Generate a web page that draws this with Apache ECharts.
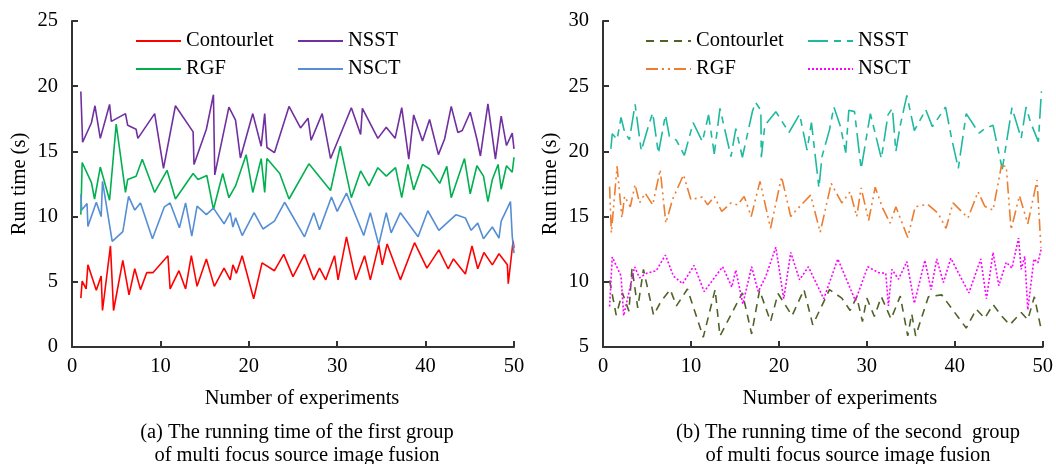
<!DOCTYPE html>
<html>
<head>
<meta charset="utf-8">
<script src="https://cdn.jsdelivr.net/npm/echarts@6/dist/echarts.min.js"></script>
<style>
  html, body { margin: 0; background: #fff; }
  #chart { width: 1056px; height: 464px; }
</style>
</head>
<body>
<div id="chart"></div>
<script>
// data read off the picture, [experiment, seconds]
// (a) first group
const aContourlet = [[1,3.75],[1.15,5.05],[1.6,4.45],[1.8,6.3],[2.75,4.35],[3.3,5.45],[3.45,2.8],[4.35,7.75],[4.7,2.8],[5.75,6.65],[6.45,4.0],[7.1,6.0],[7.75,4.4],[8.45,5.7],[9.15,5.7],[10.85,7.0],[11.1,4.45],[12.1,5.85],[12.85,4.45],[13.5,7.0],[14.15,4.65],[15.2,6.75],[16.1,4.65],[17.2,6.05],[17.9,5.15],[18.2,6.3],[18.6,5.65],[19.25,7.0],[20.55,3.7],[21.5,6.45],[22.9,5.85],[23.95,7.1],[25.0,5.4],[26.3,7.1],[27.35,5.15],[28.0,6.05],[28.7,5.15],[29.7,7.0],[30.1,5.15],[31.05,8.45],[32.1,5.15],[33.1,7.0],[33.75,5.15],[34.7,7.85],[35.1,6.3],[35.65,7.9],[37.15,5.15],[38.75,8.0],[40.15,6.05],[41.5,7.45],[42.55,6.0],[43.15,6.75],[44.5,5.6],[45.25,7.75],[45.9,6.0],[46.6,7.25],[47.55,6.3],[48.3,7.15],[49.25,6.3],[49.35,4.85],[49.9,8.15],[50,7.6]]
const aNSST = [[1,19.6],[1.2,15.7],[2.2,17.2],[2.6,18.5],[3.2,16.0],[4.25,18.6],[4.45,17.3],[6.05,17.9],[6.3,17.0],[7.25,16.7],[7.45,16.0],[9.35,17.9],[10.35,13.7],[11.7,18.5],[13.7,16.5],[13.8,14.0],[15.2,16.7],[16.0,19.35],[16.15,13.2],[17.75,18.4],[18.5,17.4],[19.05,14.5],[20.45,17.9],[21.4,15.4],[21.8,17.9],[22.05,15.3],[22.9,14.9],[24.55,18.45],[25.85,16.8],[26.7,17.55],[27.05,15.85],[28.3,17.9],[29.25,14.45],[31.6,18.35],[32.65,16.3],[32.85,18.3],[34.6,16.0],[35.55,16.85],[36.55,16.0],[37.3,18.35],[38.1,14.4],[38.65,17.8],[39.65,15.8],[40.45,17.45],[41.45,14.75],[42.15,15.95],[42.9,18.45],[43.65,16.45],[44.15,16.6],[45.05,18.0],[45.8,15.95],[46.2,14.65],[47.05,18.65],[47.9,14.4],[48.55,17.7],[49.15,15.45],[49.8,16.4],[50,15.2]]
const aRGF = [[1,10.15],[1.15,14.15],[2.2,12.6],[2.55,11.35],[3.2,13.8],[4.25,11.25],[5.0,17.1],[6.05,11.85],[6.3,12.85],[7.25,13.1],[7.95,14.4],[9.35,11.85],[10.75,13.55],[11.7,11.35],[13.7,13.3],[14.25,12.85],[15.25,13.15],[16.0,10.55],[17.05,13.3],[17.75,11.45],[18.5,12.35],[19.7,14.75],[20.45,11.85],[21.4,14.45],[21.8,11.85],[22.05,14.45],[23.5,13.3],[24.55,11.35],[26.8,14.05],[29.25,12.0],[30.35,15.4],[31.6,11.45],[32.65,13.5],[33.6,12.35],[34.6,13.75],[35.55,13.1],[36.6,13.75],[37.3,11.45],[38.0,14.0],[38.65,12.05],[39.65,14.0],[40.45,13.65],[41.6,12.55],[42.4,13.85],[42.9,11.45],[44.4,14.45],[45.05,11.75],[45.8,13.9],[46.55,13.1],[47.05,11.15],[47.55,12.85],[48.2,14.0],[48.55,12.1],[49.15,13.9],[49.8,13.4],[50,14.55]]
const aNSCT = [[1,11.7],[1.1,10.5],[1.7,11.0],[1.8,9.25],[2.75,11.1],[3.3,10.0],[3.45,12.7],[4.55,8.1],[5.75,8.85],[6.4,11.55],[7.1,10.5],[7.75,11.05],[9.1,8.3],[10.45,10.75],[11.1,11.05],[12.15,9.15],[12.85,11.05],[13.55,8.5],[14.15,10.8],[15.2,10.15],[16.0,10.65],[17.2,9.45],[17.9,10.3],[18.2,9.2],[18.5,9.9],[19.25,8.55],[20.6,10.3],[21.6,9.05],[22.9,9.65],[24.05,11.1],[26.3,8.45],[27.35,10.3],[28.0,9.0],[29.35,11.5],[30.0,10.4],[31.05,11.8],[33.0,8.55],[33.75,10.3],[34.7,7.85],[35.55,10.3],[36.1,8.75],[37.15,10.3],[39.15,8.45],[40.25,10.45],[41.5,8.95],[43.45,10.15],[44.5,9.9],[45.15,8.95],[45.9,9.5],[46.55,8.3],[47.55,9.2],[48.3,8.35],[48.55,9.65],[49.6,11.15],[49.8,8.5],[50,7.2]]

// (b) second group
const bContourlet = [[0.75,10.1],[1.5,7.45],[2.2,9.15],[2.95,7.75],[3.3,11.05],[3.95,8.0],[4.6,10.95],[5.75,7.45],[6.6,8.5],[7.65,9.4],[8.35,8.15],[9.6,9.45],[11.4,5.75],[12.75,9.4],[13.3,5.85],[14.8,7.8],[15.85,9.15],[16.9,6.0],[17.8,9.35],[19.05,6.95],[19.9,9.1],[21.5,7.4],[22.85,9.4],[23.85,6.7],[25.75,9.4],[27.15,8.75],[28.1,7.8],[28.85,8.85],[29.5,6.95],[30.0,8.75],[30.85,7.35],[31.65,8.85],[32.75,7.15],[33.8,8.9],[34.65,5.85],[35.1,7.55],[35.55,5.85],[37.0,8.85],[38.5,9.0],[41.3,6.45],[42.45,7.9],[43.4,7.2],[44.35,8.25],[45.3,7.4],[46.25,6.7],[47.55,7.65],[48.3,7.1],[49.05,8.85],[49.85,6.25]]
const bNSST = [[0.9,20.2],[1.05,21.35],[1.6,20.9],[2.05,22.6],[2.45,21.5],[3.0,20.9],[3.65,23.6],[4.35,20.05],[5.1,21.8],[5.65,22.95],[6.3,19.85],[7.1,22.8],[7.55,21.15],[8.35,20.85],[9.25,19.7],[10.25,22.2],[11.3,20.75],[12.0,22.8],[12.65,19.8],[13.3,23.3],[14.55,19.6],[15.1,21.75],[15.85,19.55],[17.0,23.1],[17.35,23.75],[17.95,23.15],[18.0,19.55],[18.4,22.0],[19.65,23.05],[21.15,21.45],[22.35,22.85],[23.2,20.1],[23.7,22.2],[24.55,17.2],[24.9,19.6],[25.75,21.65],[26.25,23.4],[27.0,21.9],[27.6,19.9],[27.95,23.15],[28.6,23.05],[29.35,18.65],[30.4,22.9],[31.65,19.45],[32.4,22.8],[32.9,23.3],[33.3,20.0],[33.8,22.0],[34.55,24.3],[35.4,21.6],[36.7,23.2],[37.45,21.9],[38.95,23.4],[39.65,20.95],[40.4,18.7],[41.3,22.9],[42.75,21.4],[43.4,21.75],[44.35,22.0],[45.4,18.65],[45.95,21.0],[46.5,23.35],[47.1,22.0],[47.55,21.0],[48.1,23.4],[48.6,22.25],[49.5,20.75],[49.85,24.6]]
const bRGF = [[0.75,17.3],[0.95,13.75],[1.6,18.85],[2.15,14.9],[2.45,16.55],[3.1,15.75],[3.65,17.45],[4.15,16.05],[4.8,16.8],[5.65,15.9],[6.5,18.6],[7.15,14.5],[7.9,16.3],[9.15,18.2],[10.0,16.3],[11.3,16.5],[11.9,15.9],[12.65,16.55],[13.5,15.4],[14.55,16.05],[15.3,15.9],[16.05,16.55],[16.85,15.0],[17.85,17.7],[19.05,14.1],[20.3,18.05],[21.35,15.0],[22.05,15.55],[23.6,16.65],[24.7,13.8],[25.95,17.55],[27.15,16.05],[28.1,16.9],[28.85,15.0],[29.35,17.2],[30.2,14.7],[30.95,17.25],[31.8,15.65],[32.65,14.5],[33.3,15.75],[34.65,13.4],[35.5,15.75],[36.9,15.95],[38.1,15.25],[39.0,14.1],[39.8,16.05],[41.5,14.9],[42.65,16.9],[43.4,15.8],[44.35,15.5],[45.3,18.9],[45.85,18.85],[46.4,14.0],[47.35,16.6],[48.3,14.45],[49.35,17.8],[49.8,12.6]]
const bNSCT = [[0.75,8.1],[1.05,11.9],[2.05,10.45],[2.35,7.4],[3.6,11.15],[4.15,10.3],[4.95,10.65],[6.05,10.85],[7.1,12.05],[8.0,10.45],[9.05,9.85],[10.35,11.25],[11.5,9.25],[13.6,11.15],[14.65,9.6],[15.1,10.9],[15.9,8.3],[16.9,11.15],[17.65,9.25],[18.5,10.4],[19.65,12.65],[20.55,8.7],[21.35,12.25],[22.35,10.15],[23.35,11.15],[25.1,8.7],[26.7,11.75],[28.7,8.55],[30.1,11.15],[31.35,10.7],[32.15,10.65],[32.45,8.15],[32.85,10.95],[33.6,10.2],[34.55,11.55],[35.4,8.35],[36.6,11.65],[37.3,9.4],[37.95,11.75],[38.7,9.95],[39.55,11.8],[41.6,9.15],[42.95,11.75],[43.6,8.7],[44.35,12.25],[45.0,9.7],[45.85,11.5],[46.5,11.05],[47.25,13.35],[47.55,10.95],[47.95,11.95],[48.3,7.85],[49.0,11.75],[49.45,11.45],[49.85,12.6]]

const font = 'Liberation Serif'
const fs = 20.5

function xAxis(gridIndex, shift) {
  return {
    gridIndex: gridIndex,
    type: 'value',
    min: 0, max: 50, interval: 10,
    name: 'Number of experiments',
    nameLocation: 'middle',
    nameGap: 41,
    nameTextStyle: { fontFamily: font, fontSize: fs, color: '#000', padding: [0, 0, 0, shift * 2] },
    axisLine: { lineStyle: { color: '#333', width: 2 } },
    axisTick: { inside: true, length: 6, lineStyle: { color: '#333', width: 2 } },
    axisLabel: { fontFamily: font, fontSize: fs, color: '#000', margin: 9 },
    splitLine: { show: false },
  }
}

function yAxis(gridIndex, min, max) {
  return {
    gridIndex: gridIndex,
    type: 'value',
    min: min, max: max, interval: 5,
    name: 'Run time (s)',
    nameLocation: 'middle',
    nameGap: 42,
    nameTextStyle: { fontFamily: font, fontSize: fs, color: '#000' },
    axisLine: { show: true, lineStyle: { color: '#333', width: 2 } },
    axisTick: { show: true, inside: true, length: 6, lineStyle: { color: '#333', width: 2 } },
    axisLabel: { fontFamily: font, fontSize: fs, color: '#000', margin: 14 },
    splitLine: { show: false },
  }
}

function line(name, idx, data, color, type) {
  return {
    name: name,
    type: 'line',
    xAxisIndex: idx,
    yAxisIndex: idx,
    data: data,
    symbol: 'none',
    animation: false,
    lineStyle: { color: color, width: 1.6, type: type || 'solid' },
    itemStyle: { color: color },
  }
}

function legend(left, names) {
  return {
    orient: 'vertical',
    left: left,
    top: 25,
    itemWidth: 45,
    itemHeight: 14,
    itemGap: 6,
    data: names,
    formatter: (n) => n.slice(2),
    itemStyle: { opacity: 0 },
    textStyle: { fontFamily: font, fontSize: fs, color: '#000', lineHeight: 22 },
  }
}

const chart = echarts.init(document.getElementById('chart'))
chart.setOption({
  backgroundColor: '#fff',
  animation: false,
  grid: [
    { left: 72, top: 21, width: 442, height: 326 },
    { left: 603, top: 21, width: 442, height: 326 },
  ],
  xAxis: [xAxis(0, 9), xAxis(1, 17)],
  yAxis: [yAxis(0, 0, 25), yAxis(1, 5, 30)],
  legend: [
    legend(130, ['a-Contourlet', 'a-RGF']),
    legend(292, ['a-NSST', 'a-NSCT']),
    legend(640, ['b-Contourlet', 'b-RGF']),
    legend(802, ['b-NSST', 'b-NSCT']),
  ],
  series: [
    line('a-Contourlet', 0, aContourlet, '#ff0000'),
    line('a-NSST', 0, aNSST, '#7030a0'),
    line('a-RGF', 0, aRGF, '#00b050'),
    line('a-NSCT', 0, aNSCT, '#558ed5'),
    line('b-Contourlet', 1, bContourlet, '#4f6228', [8, 6]),
    line('b-NSST', 1, bNSST, '#1fb9a0', [20, 6, 7, 6]),
    line('b-RGF', 1, bRGF, '#ed7d31', [12, 4, 2, 4, 2, 4]),
    line('b-NSCT', 1, bNSCT, '#ff00ff', [2, 2]),
  ],
  graphic: [
    {
      type: 'text', x: 297, y: 444.5,
      style: {
        text: '(a) The running time of the first group\nof multi focus source image fusion',
        align: 'center', verticalAlign: 'middle', lineHeight: 23,
        fontFamily: font, fontSize: fs, fill: '#000',
      },
    },
    {
      type: 'text', x: 848, y: 444.5,
      style: {
        text: '(b) The running time of the second  group\nof multi focus source image fusion',
        align: 'center', verticalAlign: 'middle', lineHeight: 23,
        fontFamily: font, fontSize: fs, fill: '#000',
      },
    },
  ],
})
</script>
</body>
</html>
